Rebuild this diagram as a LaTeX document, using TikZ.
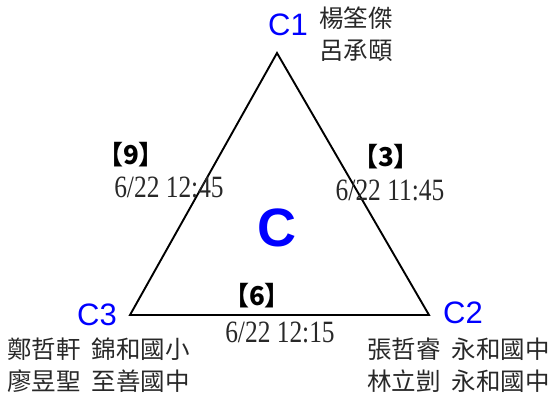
\documentclass[tikz,border=0pt]{standalone}
\usepackage{fontspec}
\setmainfont{Liberation Serif}
\newfontfamily\cjk{Noto Sans CJK TC}
\newfontfamily\arial{Liberation Sans}
\newfontfamily\datefont[FakeStretch=0.82]{Liberation Serif}
\definecolor{txt}{RGB}{40,40,40}
\definecolor{lblue}{RGB}{0,0,255}
\begin{document}
\begin{tikzpicture}[x=1pt,y=-1pt,
  vlabel/.style={text=lblue,font=\arial\fontsize{31}{31}\selectfont,inner sep=0pt},
  names/.style={text=txt,font=\cjk\fontsize{24.5}{32}\selectfont,inner sep=0pt,align=left},
  count/.style={text=black,font=\cjk\bfseries\fontsize{26}{26}\selectfont,inner sep=0pt},
  datestyle/.style={text=txt,font=\datefont\fontsize{31}{31}\selectfont,inner sep=0pt},
  edge/.style={line width=1.9pt,line join=miter}]
\useasboundingbox (0,0) rectangle (550,399);
\coordinate (T) at (277,53);
\coordinate (L) at (130,315);
\coordinate (R) at (429,315);
\draw[edge] (T) -- (R) -- (L) -- cycle;
\node[vlabel] (c1) at (288,25) {C1};
\node[vlabel] (c2) at (463,313) {C2};
\node[vlabel] (c3) at (97,315) {C3};
\node[text=lblue,font=\arial\bfseries\fontsize{54}{54}\selectfont,inner sep=0pt] (cc) at (277,228) {C};
\node[names] (n1) at (356,34) {楊筌傑\\呂承頤};
\node[names,anchor=west] (n3) at (7,365) {鄭哲軒\hspace{0.45em}錦和國小\\廖昱聖\hspace{0.45em}至善國中};
\node[names,anchor=east] (n2) at (550,365) {張哲睿\hspace{0.45em}永和國中\\林立剴\hspace{0.45em}永和國中};
\node[count] (k9) at (131,155) {【9】};
\node[datestyle] (d9) at (169,187) {6/22 12:45};
\node[count] (k3) at (386,157) {【3】};
\node[datestyle] (d3) at (390,190) {6/22 11:45};
\node[count] (k6) at (257,296) {【6】};
\node[datestyle] (d6) at (280,332) {6/22 12:15};
\end{tikzpicture}
\end{document}
